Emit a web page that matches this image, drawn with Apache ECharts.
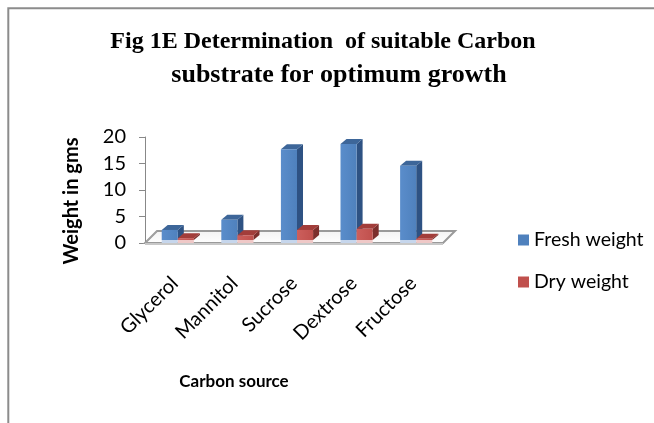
<!DOCTYPE html>
<html><head><meta charset="utf-8">
<script src="https://cdn.jsdelivr.net/npm/echarts@6/dist/echarts.min.js"></script>
<style>html,body{margin:0;padding:0;background:#fff}#c{width:654px;height:423px}</style>
</head><body><div id="c"></div>
<script>
const categories = ['Glycerol', 'Mannitol', 'Sucrose', 'Dextrose', 'Fructose'];
const freshWeight = [1.9, 3.8, 17.1, 18.1, 14.0];
const dryWeight = [0.35, 0.9, 1.9, 2.1, 0.25];
const yMin = 0, yMax = 20, yInterval = 5;
const seriesNames = ['Fresh weight', 'Dry weight'];

const blue = {front: '#4f81bd', light: '#5a8dcb', top: '#3d6699', side: '#2e5283', reflect: '#c6d6ec'};
const red = {front: '#c0504d', light: '#cc5f5c', top: '#a23d3a', side: '#7c2e2c', reflect: '#efc8c7'};

function barRenderer(side, c) {
  return function (params, api) {
    const i = api.value(0), v = api.value(1);
    const base = api.coord([i, 0]);
    const top = api.coord([i, v]);
    const band = api.size([1, 0])[0];
    const w = band * 0.27;
    const cx = base[0] + 3;
    const x0 = side < 0 ? cx - w : cx;
    const x1 = x0 + w;
    const yb = base[1] - 3, yt = top[1] - 3;
    const dx = 6, dy = 5;
    return {type: 'group', children: [
      {type: 'rect', shape: {x: x0, y: yb, width: w, height: 3}, style: {fill: c.reflect}},
      {type: 'polygon', shape: {points: [[x1, yt], [x1 + dx, yt - dy], [x1 + dx, yb - dy], [x1, yb]]}, style: {fill: c.side}},
      {type: 'polygon', shape: {points: [[x0, yt], [x0 + dx, yt - dy], [x1 + dx, yt - dy], [x1, yt]]}, style: {fill: c.top}},
      {type: 'rect', shape: {x: x0, y: yt, width: w, height: yb - yt},
        style: {fill: new echarts.graphic.LinearGradient(0, 0, 1, 0, [{offset: 0, color: c.light}, {offset: 1, color: c.front}])}}
    ]};
  };
}

function floorRenderer(params, api) {
  const cs = params.coordSys;
  const xl = cs.x, xr = cs.x + cs.width, yf = cs.y + cs.height;
  const dx = 12, dy = 12;
  return {type: 'group', children: [
    {type: 'polygon', shape: {points: [[xl, yf], [xr, yf], [xr + dx, yf - dy], [xl + dx, yf - dy]]},
      style: {fill: new echarts.graphic.LinearGradient(0, 0, 0, 1, [{offset: 0, color: '#f2f2f2'}, {offset: 1, color: '#ffffff'}]), stroke: '#9a9a9a', lineWidth: 2}},
    {type: 'line', shape: {x1: xl, y1: yf + 1, x2: xr, y2: yf + 1}, style: {stroke: '#c8c8c8', lineWidth: 2}},
    {type: 'line', shape: {x1: xl, y1: yf, x2: xl + dx, y2: yf - dy}, style: {stroke: '#a0a0a0', lineWidth: 1}}
  ]};
}

const chart = echarts.init(document.getElementById('c'), null, {renderer: 'canvas'});
chart.setOption({
  animation: false,
  backgroundColor: '#fff',
  title: [
    {text: 'Fig 1E Determination  of suitable Carbon', left: 323, top: 30, textAlign: 'center', padding: 0,
      textStyle: {fontFamily: 'Liberation Serif', fontWeight: 'bold', fontSize: 24, color: '#000'}},
    {text: 'substrate for optimum growth', left: 339, top: 62, textAlign: 'center', padding: 0,
      textStyle: {fontFamily: 'Liberation Serif', fontWeight: 'bold', fontSize: 26, color: '#000'}}
  ],
  legend: {
    orient: 'vertical', left: 518, top: 230, itemWidth: 11, itemHeight: 11, itemGap: 22, padding: 0,
    data: [{name: seriesNames[0], icon: 'rect'}, {name: seriesNames[1], icon: 'rect'}],
    textStyle: {fontFamily: 'Lato', fontSize: 19.5, color: '#000'}
  },
  grid: {left: 145, right: 211, top: 137, bottom: 180, containLabel: false},
  xAxis: {
    type: 'category', data: categories,
    axisLine: {show: false}, axisTick: {show: false}, splitLine: {show: false},
    axisLabel: {rotate: 45, interval: 0, margin: 37, fontFamily: 'Lato', fontSize: 20, color: '#000'}
  },
  yAxis: {
    type: 'value', min: yMin, max: yMax, interval: yInterval,
    axisLine: {show: true, lineStyle: {color: '#888', width: 1}},
    axisTick: {show: true, length: 6, lineStyle: {color: '#888'}},
    splitLine: {show: false},
    axisLabel: {margin: 19, fontFamily: 'Lato', fontSize: 20, color: '#000'}
  },
  graphic: [
    {type: 'rect', shape: {x: 8.3, y: 8.3, width: 700, height: 500}, style: {fill: 'none', stroke: '#8c8c8c', lineWidth: 2}, silent: true},
    {type: 'text', x: 72, y: 201, rotation: Math.PI / 2, style: {text: 'Weight in gms', font: 'bold 20px Lato', fill: '#000', align: 'center', verticalAlign: 'middle'}},
    {type: 'text', x: 234, y: 382, style: {text: 'Carbon source', font: 'bold 17px Lato', fill: '#000', align: 'center', verticalAlign: 'middle'}}
  ],
  series: [
    {type: 'custom', name: 'floor', z: 1, silent: true, renderItem: floorRenderer, data: [[0, 0]], encode: {x: 0, y: 1}},
    {type: 'custom', name: seriesNames[0], z: 2, itemStyle: {color: blue.front}, renderItem: barRenderer(-1, blue),
      data: categories.map((c, i) => [i, freshWeight[i]]), encode: {x: 0, y: 1}},
    {type: 'custom', name: seriesNames[1], z: 3, itemStyle: {color: red.front}, renderItem: barRenderer(1, red),
      data: categories.map((c, i) => [i, dryWeight[i]]), encode: {x: 0, y: 1}}
  ]
});
</script></body></html>
